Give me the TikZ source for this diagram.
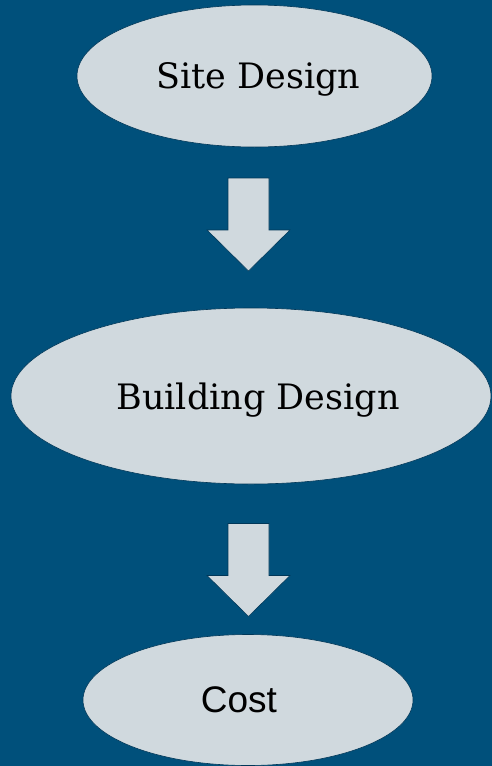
\documentclass[tikz,border=0pt]{standalone}
\usepackage{fontspec}
\setmainfont{DejaVu Serif}
\newfontfamily\costfont{Liberation Sans}
\usetikzlibrary{shapes.geometric}
\definecolor{bgblue}{RGB}{0,80,123}
\definecolor{paleblue}{RGB}{208,217,222}
\definecolor{edgeblue}{RGB}{0,55,88}

\begin{document}
\begin{tikzpicture}[x=1pt, y=-1pt,
		stage/.style={ellipse, fill=paleblue, draw=edgeblue, line width=0.6pt, inner sep=0pt, text depth=0pt, font=\fontsize{35}{41}\selectfont},
		downarrow/.pic={
			\draw[fill=paleblue, draw=edgeblue, line width=0.6pt] (-20.5, -46.5) -- (20.5, -46.5) -- (20.5, 5.5) -- (41.5, 5.5) -- (0, 46.5) -- (-41.5, 5.5) -- (-20.5, 5.5) -- cycle;
		}]
			%%%%% START %%%%%
			
			\fill[bgblue] (0, 0) rectangle (492, 766);
			\useasboundingbox (0, 0) rectangle (492, 766);
			
			\node[stage, minimum width=355pt, minimum height=142pt] (site) at (254.5, 76) {\hspace*{8pt}Site Design};
			\pic (arrowA) at (248.5, 224.5) {downarrow};
			
			\node[stage, minimum width=480pt, minimum height=176pt] (bldg) at (251, 396) {\hspace*{14pt}Building Design};
			\pic (arrowB) at (248.5, 570) {downarrow};
			
			\node[stage, minimum width=330pt, minimum height=131pt, font=\costfont\fontsize{37}{43}\selectfont] (cost) at (248, 700) {Cost\hspace*{18pt}};
			
			%%%%% END %%%%%
		\end{tikzpicture}
\end{document}
